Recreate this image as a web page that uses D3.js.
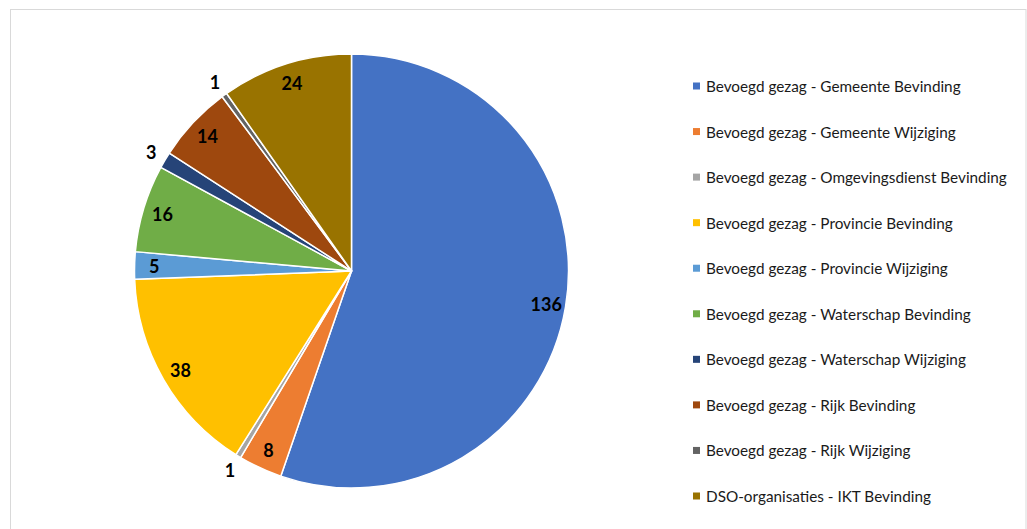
<!DOCTYPE html>
<html><head><meta charset="utf-8">
<script src="https://cdn.jsdelivr.net/npm/d3@7/dist/d3.min.js"></script>
<style>html,body{margin:0;padding:0;background:#fff;}svg{display:block;}</style>
</head><body>
<svg id="chart" width="1027" height="529"></svg>
<script>
const categories = [
  "Bevoegd gezag - Gemeente Bevinding",
  "Bevoegd gezag - Gemeente Wijziging",
  "Bevoegd gezag - Omgevingsdienst Bevinding",
  "Bevoegd gezag - Provincie Bevinding",
  "Bevoegd gezag - Provincie Wijziging",
  "Bevoegd gezag - Waterschap Bevinding",
  "Bevoegd gezag - Waterschap Wijziging",
  "Bevoegd gezag - Rijk Bevinding",
  "Bevoegd gezag - Rijk Wijziging",
  "DSO-organisaties - IKT Bevinding"
];
const values = [136, 8, 1, 38, 5, 16, 3, 14, 1, 24];
const colors = ["#4472C4","#ED7D31","#A5A5A5","#FFC000","#5B9BD5","#70AD47","#264478","#9E480E","#636363","#997300"];

const svg = d3.select("#chart");
const FONT = "Lato, 'Open Sans', sans-serif";

// frame
svg.append("rect").attr("x",10.5).attr("y",9.5).attr("width",1015.5).attr("height",530)
  .attr("fill","none").attr("stroke","#d9d9d9").attr("stroke-width",1);

const data = categories.map((c,i)=>({cat:c, value:values[i], color:colors[i]}));
const cx = 351.5, cy = 271, R = 217;
const pie = d3.pie().value(d=>d.value).sort(null).startAngle(0).endAngle(2*Math.PI);
const arcs = pie(data);
const arc = d3.arc().innerRadius(0).outerRadius(R);
const g = svg.append("g").attr("transform",`translate(${cx},${cy})`);
g.selectAll("path").data(arcs).join("path")
  .attr("d",arc).attr("fill",d=>d.data.color)
  .attr("stroke","#fff").attr("stroke-width",1.5).attr("stroke-linejoin","round");

const inArc = d3.arc().innerRadius(R*0.91).outerRadius(R*0.91);
const outArc = d3.arc().innerRadius(R+16).outerRadius(R+16);
g.selectAll("text.lbl").data(arcs).join("text").attr("class","lbl")
  .attr("transform",d=>{
    const p = (d.data.value < 5 ? outArc : inArc).centroid(d);
    return `translate(${p[0]},${p[1]})`;
  })
  .attr("text-anchor","middle").attr("dominant-baseline","central")
  .attr("font-family",FONT).attr("font-weight","bold").attr("font-size",18).attr("fill","#000")
  .text(d=>d.data.value);

// legend
const legendY = d3.scalePoint().domain(categories).range([86,496]);
const lg = svg.append("g");
const items = lg.selectAll("g").data(data).join("g")
  .attr("transform",d=>`translate(693,${legendY(d.cat)})`);
items.append("rect").attr("x",0).attr("y",-3.5).attr("width",7).attr("height",7).attr("fill",d=>d.color);
items.append("text").attr("x",13).attr("y",0).attr("dominant-baseline","central")
  .attr("font-family",FONT).attr("font-size",15.3).attr("fill","#1a1a1a").text(d=>d.cat);
</script>
</body></html>
